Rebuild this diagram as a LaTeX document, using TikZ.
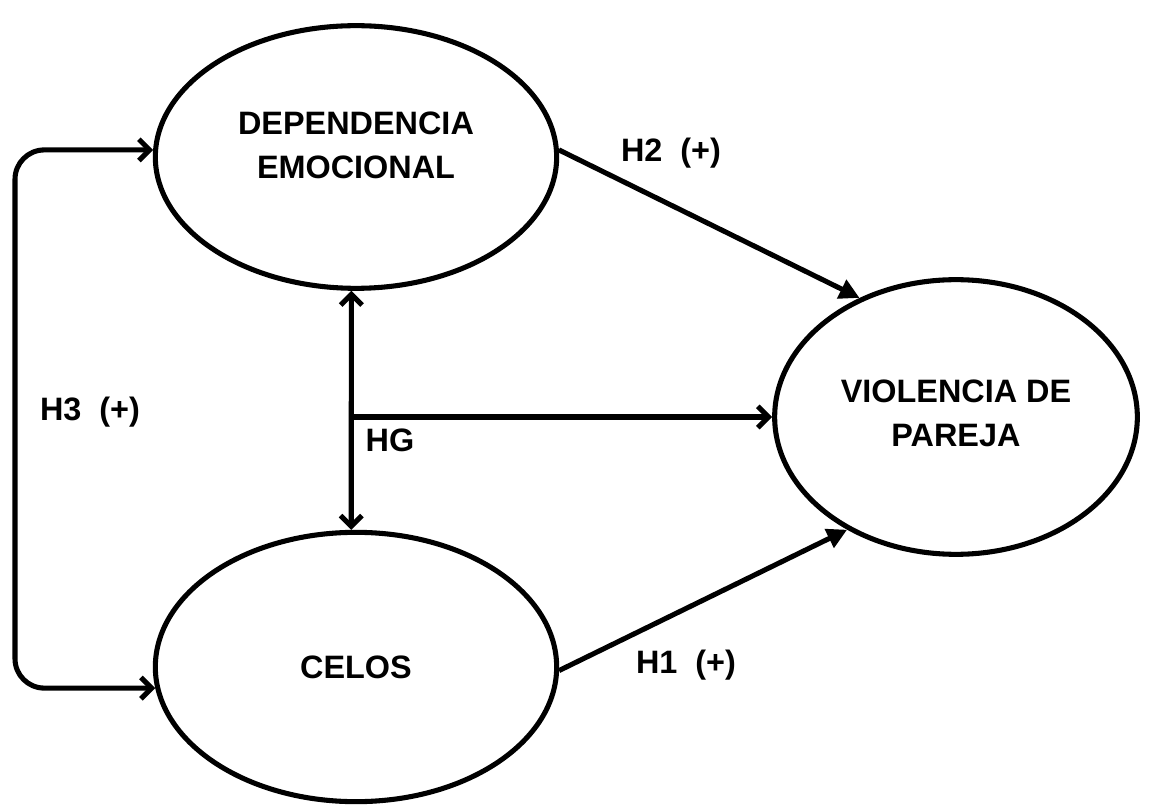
\documentclass[tikz,border=0pt]{standalone}
\usepackage{fontspec}
\setmainfont{Liberation Sans}
\usetikzlibrary{shapes.geometric,arrows.meta}
\begin{document}
\begin{tikzpicture}[x=0.75pt,y=-0.75pt,
  lw/.style={line width=3.8pt},
  construct/.style={ellipse,draw,lw,inner sep=0pt,align=center,
    font=\fontsize{24.3}{33}\selectfont\bfseries},
  lbl/.style={font=\fontsize{24.3}{28}\selectfont\bfseries,inner sep=0pt},
  barb/.style={lw,-{Straight Barb[length=8pt,width=16pt,line width=3.8pt]}},
  dblbarb/.style={lw,{Straight Barb[length=8pt,width=16pt,line width=3.8pt]}-{Straight Barb[length=8pt,width=16pt,line width=3.8pt]}},
  fill arrow/.style={lw,-{Triangle[length=15pt,width=15pt]}}]
\useasboundingbox (0,0) rectangle (1153,812);
\node[construct,minimum width=301pt,minimum height=197pt,text depth=18pt] (dep) at (356,157) {DEPENDENCIA\\EMOCIONAL};
\node[construct,minimum width=301pt,minimum height=202pt] (cel) at (356,667) {CELOS};
\node[construct,minimum width=272pt,minimum height=206pt,text depth=6pt] (vio) at (956,417) {VIOLENCIA DE\\PAREJA};
\coordinate (h3x) at (15,420);
\draw[dblbarb,rounded corners=22pt] (dep.178) -| (h3x) |- (cel.186);
\draw[dblbarb] (dep.268) -- (cel.92);
\draw[barb] (dep.268 |- vio.west) -- (vio.west);
\draw[fill arrow] (dep.2) -- (vio.129);
\draw[fill arrow] (cel.359) -- (vio.226);
\node[lbl] (h2) at (671,153) {H2\ \ (+)};
\node[lbl] (h1) at (686,665) {H1\ \ (+)};
\node[lbl] (h3) at (90,412) {H3\ \ (+)};
\node[lbl] (hg) at (390,440) {HG};
\end{tikzpicture}
\end{document}
